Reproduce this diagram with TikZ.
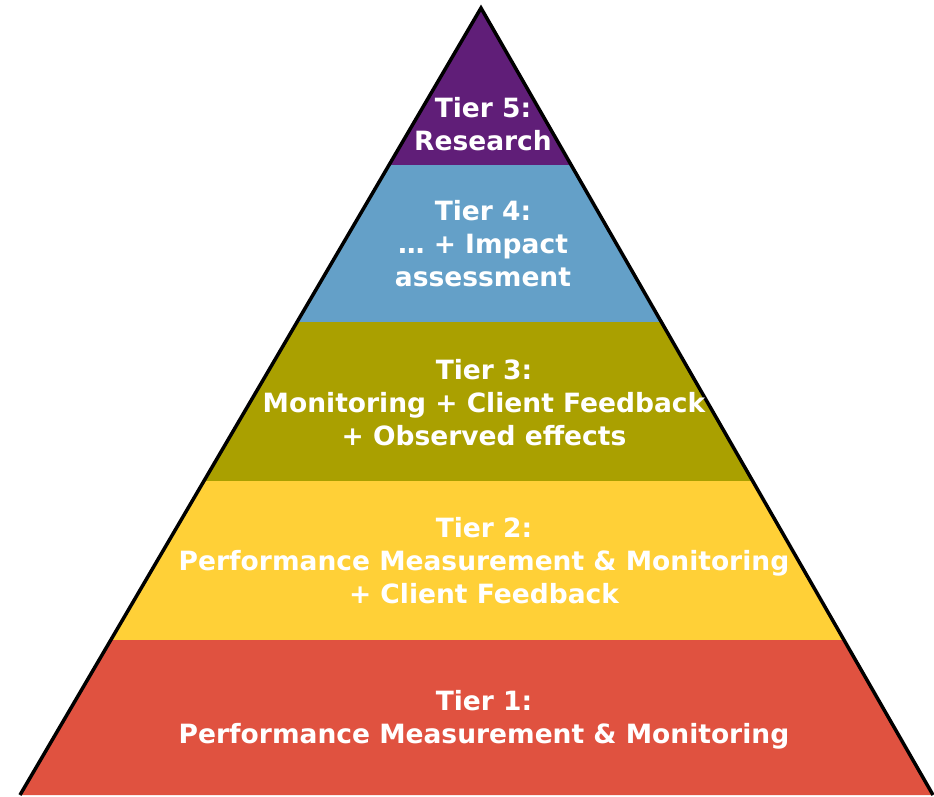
\documentclass[tikz,border=0pt]{standalone}
\usepackage{fontspec}
\setmainfont{DejaVu Sans}
\usepackage{tikz}

\definecolor{tierpurple}{RGB}{96,30,120}
\definecolor{tierblue}{RGB}{100,160,200}
\definecolor{tierolive}{RGB}{170,160,0}
\definecolor{tieryellow}{RGB}{255,208,55}
\definecolor{tierred}{RGB}{224,82,64}

\tikzset{tiertext/.style={text=white, align=center, font=\bfseries\fontsize{26.5}{33}\selectfont}}

\begin{document}
\begin{tikzpicture}[x=1pt,y=-1pt]
            \useasboundingbox (0,0) rectangle (934,797);
            \begin{scope}
            \clip (481,8) -- (20,795) -- (933,795) -- cycle;
            \fill[tierpurple] (0,0) rectangle (934,165);
            \fill[tierblue] (0,165) rectangle (934,322);
            \fill[tierolive] (0,322) rectangle (934,481);
            \fill[tieryellow] (0,481) rectangle (934,640);
            \fill[tierred] (0,640) rectangle (934,797);
            \end{scope}
            \draw[line width=3.5pt, line join=miter] (20,795) -- (481,8) -- (933,795);
            \draw (483,124) node[tiertext] (tierfive) {Tier 5:\\Research};
            \draw (483,244) node[tiertext] (tierfour) {Tier 4:\\\dots{} + Impact\\assessment};
            \draw (484,403) node[tiertext] (tierthree) {Tier 3:\\Monitoring + Client Feedback\\+ Observed effects};
            \draw (484,561) node[tiertext] (tiertwo) {Tier 2:\\Performance Measurement \& Monitoring\\+ Client Feedback};
            \draw (484,720) node[tiertext] (tierone) {Tier 1:\\Performance Measurement \& Monitoring};
        \end{tikzpicture}
\end{document}
